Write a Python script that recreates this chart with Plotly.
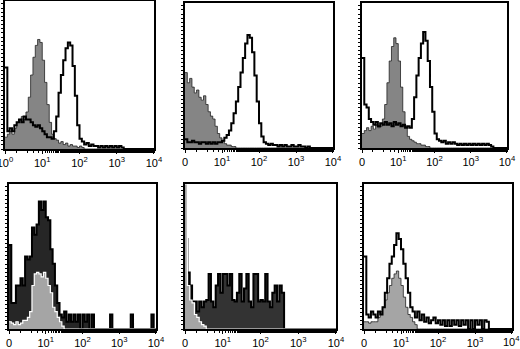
import numpy as np
import plotly.graph_objects as go

# log-spaced fluorescence channels: 16 bins per decade, 10^0 .. 10^4
bins_per_decade = 16
edges_log = np.arange(0, 4 * bins_per_decade + 1) / bins_per_decade
x_edges = 10 ** edges_log

tick_vals = [1, 10, 100, 1000, 10000]
tick_text_first = ["10<sup>0</sup>", "10<sup>1</sup>", "10<sup>2</sup>", "10<sup>3</sup>", "10<sup>4</sup>"]
tick_text = ["0", "10<sup>1</sup>", "10<sup>2</sup>", "10<sup>3</sup>", "10<sup>4</sup>"]

# relative counts (fraction of panel height)
p1_control = [0.08, 0.1, 0.12, 0.1, 0.14, 0.18, 0.2, 0.22, 0.2, 0.25,
              0.35, 0.5, 0.62, 0.7, 0.74, 0.72, 0.6, 0.45, 0.3, 0.18,
              0.1, 0.07, 0.06, 0.04, 0.05, 0.03, 0.04, 0.02, 0.03, 0.02,
              0.02, 0.01, 0.02, 0.01] + [0] * 30
p1_stain = [0.55, 0.12, 0.14, 0.12, 0.16, 0.18, 0.2, 0.18, 0.22, 0.2,
            0.2, 0.18, 0.16, 0.15, 0.16, 0.14, 0.12, 0.1, 0.08, 0.08,
            0.07, 0.12, 0.22, 0.38, 0.5, 0.6, 0.68, 0.72, 0.7, 0.56,
            0.36, 0.16, 0.07, 0.05, 0.03, 0.04, 0.02, 0.03, 0.02, 0.02,
            0.01, 0.02, 0.01, 0.02, 0.01, 0.02, 0.01, 0.02, 0.01, 0.02,
            0.01] + [0] * 13

p2_control = [0.52, 0.45, 0.48, 0.42, 0.38, 0.4, 0.35, 0.33, 0.36, 0.3,
              0.25, 0.22, 0.2, 0.15, 0.1, 0.07, 0.05, 0.03, 0.02, 0.02,
              0.01, 0.01] + [0] * 42
p2_stain = [0.06, 0.04, 0.04, 0.05, 0.04, 0.04, 0.03, 0.04, 0.04, 0.03,
            0.04, 0.03, 0.04, 0.03, 0.04, 0.04, 0.05, 0.07, 0.09, 0.12,
            0.17, 0.24, 0.32, 0.42, 0.52, 0.62, 0.72, 0.78, 0.76, 0.66,
            0.5, 0.32, 0.17, 0.08, 0.04, 0.03, 0.02, 0.03, 0.02, 0.02,
            0.01, 0.02, 0.01, 0.02, 0.01, 0.01, 0.02, 0.01, 0.01, 0.02,
            0.01, 0.01, 0, 0.01] + [0] * 10

p3_control = [0.1, 0.12, 0.14, 0.12, 0.15, 0.13, 0.16, 0.14, 0.15, 0.2,
              0.3, 0.45, 0.6, 0.7, 0.76, 0.72, 0.6, 0.42, 0.25, 0.15,
              0.08, 0.06, 0.05, 0.04, 0.03, 0.03, 0.02, 0.02, 0.01, 0.01] + [0] * 34
p3_stain = [0.62, 0.3, 0.28, 0.2, 0.18, 0.16, 0.18, 0.15, 0.17, 0.16,
            0.18, 0.16, 0.17, 0.15, 0.18, 0.16, 0.17, 0.15, 0.16, 0.14,
            0.15, 0.14, 0.2, 0.35, 0.5, 0.62, 0.72, 0.8, 0.74, 0.6,
            0.42, 0.25, 0.1, 0.06, 0.05, 0.04, 0.05, 0.03, 0.04, 0.03,
            0.04, 0.03, 0.02, 0.03, 0.02, 0.03, 0.02, 0.03, 0.02, 0.03,
            0.02, 0.03, 0.02, 0.03, 0.02, 0.03, 0.02, 0.01, 0, 0,
            0, 0, 0, 0]

p4_control = [0.05, 0.04, 0.03, 0.05, 0.03, 0.04, 0.06, 0.06, 0.08, 0.12,
              0.3, 0.38, 0.39, 0.38, 0.36, 0.39, 0.35, 0.3, 0.25, 0.15,
              0.12, 0.08, 0.05, 0.02] + [0] * 40
p4_stain = [0.58, 0.18, 0.18, 0.3, 0.3, 0.35, 0.3, 0.5, 0.48, 0.5,
            0.7, 0.65, 0.72, 0.88, 0.82, 0.88, 0.77, 0.75, 0.55, 0.45,
            0.3, 0.18, 0.1, 0.08, 0.12, 0.05, 0.1, 0.05, 0.1, 0.05,
            0.1, 0, 0.1, 0.05, 0.1, 0, 0.1, 0, 0, 0,
            0, 0, 0, 0, 0.1, 0, 0, 0, 0, 0,
            0, 0, 0, 0.1, 0, 0, 0, 0, 0, 0,
            0, 0, 0.1, 0]

p5_control = [1.0, 0.3, 0.2, 0.18, 0.1, 0.08, 0.05, 0.03, 0.02] + [0] * 55
p5_stain = [0.62, 0.39, 0.3, 0.19, 0.19, 0.12, 0.19, 0.15, 0.19, 0.2,
            0.38, 0.19, 0.15, 0.3, 0.38, 0.25, 0.38, 0.38, 0.3, 0.38,
            0.2, 0.19, 0.25, 0.38, 0.19, 0.28, 0.38, 0.19, 0.15, 0.38,
            0.38, 0.19, 0.2, 0.19, 0.38, 0.19, 0.15, 0.25, 0.3, 0.19,
            0.3, 0.25] + [0] * 22

p6_control = [0.05, 0.05, 0.04, 0.05, 0.05, 0.05, 0.08, 0.12, 0.15, 0.2,
              0.25, 0.3, 0.35, 0.38, 0.4, 0.35, 0.3, 0.22, 0.15, 0.1,
              0.08, 0.05, 0.03] + [0] * 41
p6_stain = [0.5, 0.1, 0.08, 0.12, 0.1, 0.08, 0.12, 0.1, 0.15, 0.25,
            0.35, 0.45, 0.5, 0.58, 0.66, 0.62, 0.55, 0.45, 0.35, 0.25,
            0.15, 0.12, 0.08, 0.12, 0.06, 0.1, 0.05, 0.08, 0.04, 0.06,
            0.08, 0.04, 0.06, 0.03, 0.06, 0.02, 0.06, 0.02, 0.06, 0.03,
            0.06, 0.02, 0.06, 0.03, 0.06, 0, 0.06, 0, 0.06, 0.03,
            0.06, 0, 0.06, 0.05, 0, 0, 0, 0, 0, 0,
            0, 0, 0, 0]

panels = [
    (p1_control, p1_stain, tick_text_first),
    (p2_control, p2_stain, tick_text),
    (p3_control, p3_stain, tick_text),
    (p4_control, p4_stain, tick_text),
    (p5_control, p5_stain, tick_text),
    (p6_control, p6_stain, tick_text[:-1] + [""]),
]

# panel boxes in pixels: left, right, top, bottom
W, H = 520, 349
boxes = [(5, 154, 1, 149), (185, 333, 3, 148), (362, 507, 3, 148),
         (9, 156, 184, 329), (185, 336, 184, 329), (364, 512, 184, 329)]
stain_fills = {4: "rgba(0,0,0,0.85)", 5: "rgba(0,0,0,0.8)"}
label_font = dict(family="Liberation Sans, Arial", size=11, color="black")

fig = go.Figure()
layout = {}
for k, ((ctrl, stain, ttext), (l, r, t, b)) in enumerate(zip(panels, boxes), start=1):
    xa = "x" if k == 1 else f"x{k}"
    ya = "y" if k == 1 else f"y{k}"
    yc = list(ctrl) + [ctrl[-1]]
    ys = list(stain) + [stain[-1]]
    fill_col = "#858585" if k <= 3 else "#a5a5a5"
    sf = stain_fills.get(k)
    if sf:
        fig.add_trace(go.Scatter(x=x_edges, y=ys, mode="lines", line_shape="hv",
                                 fill="tozeroy", fillcolor=sf,
                                 line=dict(color="black", width=2),
                                 xaxis=xa, yaxis=ya, showlegend=False, hoverinfo="skip"))
        fig.add_trace(go.Scatter(x=x_edges, y=yc, mode="lines", line_shape="hv",
                                 fill="tozeroy", fillcolor=fill_col,
                                 line=dict(color="white", width=1.2),
                                 xaxis=xa, yaxis=ya, showlegend=False, hoverinfo="skip"))
    else:
        fig.add_trace(go.Scatter(x=x_edges, y=yc, mode="lines", line_shape="hv",
                                 fill="tozeroy", fillcolor=fill_col,
                                 line=dict(color="#222", width=0.8),
                                 xaxis=xa, yaxis=ya, showlegend=False, hoverinfo="skip"))
        fig.add_trace(go.Scatter(x=x_edges, y=ys, mode="lines", line_shape="hv",
                                 line=dict(color="black", width=2),
                                 xaxis=xa, yaxis=ya, showlegend=False, hoverinfo="skip"))
    xkey = "xaxis" if k == 1 else f"xaxis{k}"
    ykey = "yaxis" if k == 1 else f"yaxis{k}"
    layout[xkey] = dict(
        domain=[l / W, r / W], anchor=ya, type="log", range=[-0.0002, 4.0002],
        tickvals=tick_vals, ticktext=ttext, ticks="outside", ticklen=3,
        tickwidth=1, tickcolor="black", automargin=False,
        ticklabeloverflow="allow",
        minor=dict(ticks="outside", ticklen=2, tickcolor="black", showgrid=False),
        showline=True, linecolor="black", linewidth=1.5, mirror=True,
        showgrid=False, zeroline=False,
        tickfont=label_font,
    )
    layout[ykey] = dict(
        domain=[1 - b / H, 1 - t / H], anchor=xa, range=[0, 1],
        showticklabels=False, ticks="outside", ticklen=2, dtick=0.028,
        tickcolor="black", tickwidth=1, automargin=False,
        showline=True, linecolor="black", linewidth=1.5, mirror=True,
        showgrid=False, zeroline=False,
    )

# last tick label of the bottom-right panel, placed through its own axis
fig.add_annotation(x=float(np.log10(tick_vals[-1])), xref="x6",
                   y=0, yref="y6 domain", yanchor="top", yshift=-4,
                   text=tick_text[-1], showarrow=False, font=label_font,
                   borderpad=0)

fig.update_layout(width=W, height=H, margin=dict(l=0, r=0, t=0, b=0, autoexpand=False),
                  paper_bgcolor="white", plot_bgcolor="white", **layout)
fig.write_html("out.html", config={"displayModeBar": False},
               post_script="document.body.style.margin='0';")
